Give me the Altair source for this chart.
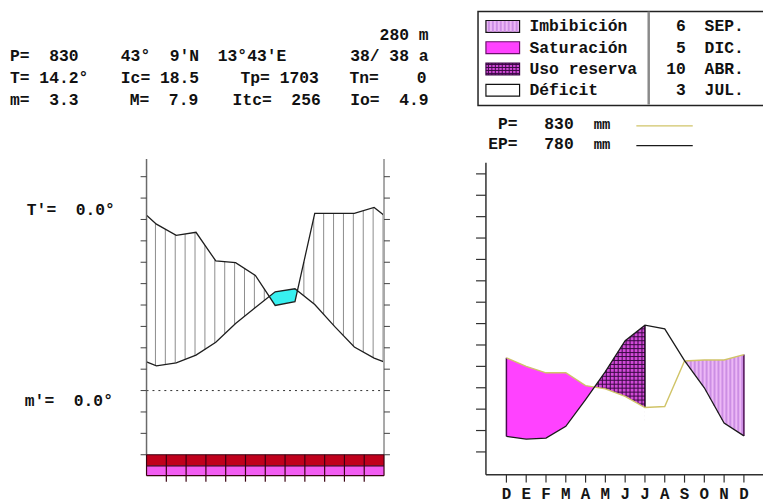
import altair as alt
import numpy as np
import pandas as pd

W, H = 763, 496
FONT = "Liberation Mono"

# ---------------- data ----------------
# Left diagram (months Jan..Dec, x in month units, values in °C; P shown as P/2)
left_x = [0, 0.5, 1.5, 2.5, 3.5, 4.5, 5.5, 6.5, 7.5, 8.5, 9.5, 10.5, 11.5, 12]
left_T = [6.7, 5.8, 6.5, 8.3, 11.3, 15.7, 19.4, 23.1, 23.8, 20.1, 15.0, 10.2, 7.6, 6.7]
left_P_half = [41.0, 38.9, 36.3, 37.0, 30.3, 29.9, 26.9, 19.9, 20.8, 41.4, 41.4, 41.4, 42.8, 41.0]
left_temp_ticks = list(range(-15, 55, 5))

# Right diagram (water balance, mm), D E F M A M J J A S O N D
right_months = ["D", "E", "F", "M", "A", "M", "J", "J", "A", "S", "O", "N", "D"]
right_P = [88, 80, 74, 74, 62, 59, 52, 41.5, 42.5, 85, 86, 86, 91]
right_EP = [14.5, 12, 13, 24, 49, 75, 104, 118.5, 115, 85.4, 60, 27, 15]
right_mm_ticks = list(range(0, 280, 20))

legend_names = ["Imbibición", "Saturación", "Uso reserva", "Déficit"]
legend_counts = ["6", "5", "10", "3"]
legend_months = ["SEP.", "DIC.", "ABR.", "JUL."]


# ---------------- scales (placement of each diagram on one canvas) ----------------
def xdom(px0, v0, ppu):
    d0 = v0 - (px0 - 8) / ppu
    return [d0, d0 + W / ppu]


def ydom(py0, v0, ppu):
    d0 = v0 - (H - (py0 - 8)) / ppu
    return [d0, d0 + H / ppu]


XL = alt.Scale(domain=xdom(148, 0, 20), nice=False, zero=False)
YL = alt.Scale(domain=ydom(392, 0, 21.615 / 5), nice=False, zero=False)
XR = alt.Scale(domain=xdom(511.7, 0, 20), nice=False, zero=False)
YR = alt.Scale(domain=ydom(454, 0, 21.615 / 20), nice=False, zero=False)


def L(df, mark, xs, ys, x2=False, y2=False, extra=None):
    e = dict(x=alt.X("x:Q", scale=xs, axis=None), y=alt.Y("y:Q", scale=ys, axis=None))
    if x2:
        e["x2"] = alt.X2("x2:Q")
    if y2:
        e["y2"] = alt.Y2("y2:Q")
    if extra:
        e.update(extra)
    kind, props = mark
    ch = getattr(alt.Chart(df), "mark_" + kind)(**props)
    return ch.encode(**e)


def crossings(x, a, b):
    d = np.asarray(a) - np.asarray(b)
    out = []
    for i in range(len(x) - 1):
        if d[i] * d[i + 1] < 0:
            t = d[i] / (d[i] - d[i + 1])
            out.append((x[i] + t * (x[i + 1] - x[i]), a[i] + t * (a[i + 1] - a[i])))
    return out


# ---------------- left diagram ----------------
lx = np.array(left_x, float)
lT = np.array(left_T, float)
lP = np.array(left_P_half, float)

hx = np.arange(0.45, 12, 0.5)
hT = np.interp(hx, lx, lT)
hP = np.interp(hx, lx, lP)
m = hP > hT
hatch_df = pd.DataFrame({"x": hx[m], "y": hT[m], "y2": hP[m]})

cr = crossings(lx, lP, lT)
cy_rows = [{"x": cr[0][0], "y": cr[0][1], "y2": cr[0][1]}]
for xi, pi, ti in zip(lx, lP, lT):
    if cr[0][0] < xi < cr[1][0]:
        cy_rows.append({"x": xi, "y": pi, "y2": ti})
cy_rows.append({"x": cr[1][0], "y": cr[1][1], "y2": cr[1][1]})
cyan_df = pd.DataFrame(cy_rows)

lines_df = pd.concat([
    pd.DataFrame({"x": lx, "y": lP, "s": "P"}),
    pd.DataFrame({"x": lx, "y": lT, "s": "T"}),
])

ytop_l = (392 - 158) / 4.323
left_layers = [
    L(hatch_df, ("rule", dict(color="#8c8c8c", strokeWidth=1)), XL, YL, y2=True),
    L(cyan_df, ("area", dict(color="#38f0f0", opacity=1)), XL, YL, y2=True),
    L(lines_df, ("line", dict(color="#1e1e1e", strokeWidth=1.3)), XL, YL, extra={"detail": "s:N"}),
    # dotted freezing line
    L(pd.DataFrame({"x": [0], "x2": [12], "y": [0]}),
      ("rule", dict(color="#303030", strokeDash=[2, 4], strokeWidth=1)), XL, YL, x2=True),
    # axes
    L(pd.DataFrame({"x": [0], "y": [-15], "y2": [ytop_l]}),
      ("rule", dict(color="#6a6a6a", strokeWidth=1.5)), XL, YL, y2=True),
    L(pd.DataFrame({"x": [12], "y": [-15], "y2": [ytop_l]}),
      ("rule", dict(color="#a8a8a8", strokeWidth=2)), XL, YL, y2=True),
    L(pd.DataFrame({"x": -0.3, "x2": 0.0, "y": left_temp_ticks}),
      ("rule", dict(color="#404040", strokeWidth=1)), XL, YL, x2=True),
    L(pd.DataFrame({"x": 12.0, "x2": 12.3, "y": left_temp_ticks}),
      ("rule", dict(color="#404040", strokeWidth=1)), XL, YL, x2=True),
    # bars
    L(pd.DataFrame({"x": [0], "x2": [12], "y": [-15], "y2": [-17.6]}),
      ("rect", dict(color="#c0001c")), XL, YL, x2=True, y2=True),
    L(pd.DataFrame({"x": [0], "x2": [12], "y": [-17.6], "y2": [-19.9]}),
      ("rect", dict(color="#f25cf2")), XL, YL, x2=True, y2=True),
    L(pd.DataFrame({"x": 0, "x2": 12, "y": [-15, -17.6, -19.9]}),
      ("rule", dict(color="#3a0010", strokeWidth=1.2)), XL, YL, x2=True),
    L(pd.DataFrame({"x": list(range(1, 12)), "y": -15, "y2": -21.3}),
      ("rule", dict(color="#3a0010", strokeWidth=1.2)), XL, YL, y2=True),
    L(pd.DataFrame({"x": [0, 12], "y": -15, "y2": -19.9}),
      ("rule", dict(color="#3a0010", strokeWidth=1.2)), XL, YL, y2=True),
]
left = alt.layer(*left_layers)

# ---------------- right diagram ----------------
rx = np.arange(13, dtype=float)
rP = np.array(right_P, float)
rE = np.array(right_EP, float)
rc = crossings(rx, rP, rE)
c1, c2 = rc[0], rc[-1]

sat_rows = [{"x": xi, "y": pi, "y2": ei} for xi, pi, ei in zip(rx, rP, rE) if xi < c1[0]]
sat_rows.append({"x": c1[0], "y": c1[1], "y2": c1[1]})
sat_df = pd.DataFrame(sat_rows)

uso_rows = [{"x": c1[0], "y": c1[1], "y2": c1[1]}]
uso_rows += [{"x": xi, "y": ei, "y2": pi} for xi, pi, ei in zip(rx, rP, rE) if c1[0] < xi <= 7]
uso_df = pd.DataFrame(uso_rows)

imb_rows = [{"x": c2[0], "y": c2[1], "y2": c2[1]}]
imb_rows += [{"x": xi, "y": pi, "y2": ei} for xi, pi, ei in zip(rx, rP, rE) if xi > c2[0]]
imb_df = pd.DataFrame(imb_rows)

# grid texture of "uso reserva"
gx = np.arange(c1[0] + 0.2, 7.0001, 0.2)
gEP = np.interp(gx, rx, rE)
gP = np.interp(gx, rx, rP)
grid_v = pd.DataFrame({"x": gx, "y": gP, "y2": gEP})
grid_h = pd.DataFrame({"x": c1[0] + 0.05, "x2": 7.0, "y": np.arange(30, 126, 3.7)})
mask_top = uso_df.assign(y=uso_df["y"], y2=250.0)
mask_bot = uso_df.assign(y=uso_df["y2"], y2=-20.0)

# stripes of "imbibición"
sx = np.arange(c2[0] + 0.1, 12, 0.2)
stripes = pd.DataFrame({"x": sx, "y": np.interp(sx, rx, rE), "y2": np.interp(sx, rx, rP)})

rlines_P = pd.DataFrame({"x": rx, "y": rP})
rlines_E = pd.DataFrame({"x": rx, "y": rE})

xl_r = (491 - 511.7) / 20
xr_r = (771 - 511.7) / 20
yb_r = (454 - 477) / 1.0808
yt_r = (454 - 161.7) / 1.0808
month_df = pd.DataFrame({"x": rx, "y": (454 - 497) / 1.0808, "t": right_months})

right_layers = [
    L(sat_df, ("area", dict(color="#ff42ff", opacity=1)), XR, YR, y2=True),
    L(uso_df, ("area", dict(color="#d24ad8", opacity=1)), XR, YR, y2=True),
    L(grid_h, ("rule", dict(color="#3a0a44", strokeWidth=1)), XR, YR, x2=True),
    L(mask_top, ("area", dict(color="white", opacity=1)), XR, YR, y2=True),
    L(mask_bot, ("area", dict(color="white", opacity=1)), XR, YR, y2=True),
    L(grid_v, ("rule", dict(color="#3a0a44", strokeWidth=1)), XR, YR, y2=True),
    L(imb_df, ("area", dict(color="#ecb8f6", opacity=1)), XR, YR, y2=True),
    L(stripes, ("rule", dict(color="#cc8ee4", strokeWidth=2)), XR, YR, y2=True),
    L(pd.DataFrame({"x": [0.0, 12.0], "y": [rE[0], rE[12]], "y2": [rP[0], rP[12]]}),
      ("rule", dict(color="#4a0a52", strokeWidth=1.5)), XR, YR, y2=True),
    L(pd.DataFrame({"x": [7.0], "y": [rP[7]], "y2": [rE[7]]}),
      ("rule", dict(color="#1a001e", strokeWidth=1.5)), XR, YR, y2=True),
    L(rlines_P, ("line", dict(color="#d0c468", strokeWidth=1.4)), XR, YR),
    L(rlines_E, ("line", dict(color="#1a1a1a", strokeWidth=1.3)), XR, YR),
    # axes
    L(pd.DataFrame({"x": [xl_r], "y": [yb_r], "y2": [yt_r]}),
      ("rule", dict(color="#303030", strokeWidth=1.5)), XR, YR, y2=True),
    L(pd.DataFrame({"x": [xl_r], "x2": [xr_r], "y": [yb_r]}),
      ("rule", dict(color="#303030", strokeWidth=1.5)), XR, YR, x2=True),
    L(pd.DataFrame({"x": xl_r - 0.5, "x2": xl_r, "y": right_mm_ticks}),
      ("rule", dict(color="#303030", strokeWidth=1.2)), XR, YR, x2=True),
    L(pd.DataFrame({"x": rx, "y": yb_r, "y2": yb_r - 8 / 1.0808}),
      ("rule", dict(color="#303030", strokeWidth=1.2)), XR, YR, y2=True),
    L(month_df, ("text", dict(font=FONT, fontSize=16, fontWeight="bold", color="#151515",
                              align="center", baseline="middle")), XR, YR,
      extra={"text": "t:N"}),
]
right = alt.layer(*right_layers)

# ---------------- annotations (text, legend box) ----------------
one = pd.DataFrame({"a": [0]})


def txt(s, x, y, align="left", size=16.5, color="#111111"):
    return alt.Chart(one).mark_text(
        text=s.replace(" ", "\u00a0"), align=align, baseline="middle", font=FONT,
        fontSize=size, fontWeight="bold", color=color,
    ).encode(x=alt.value(x - 8), y=alt.value(y - 8))


def box(x1, y1, x2, y2, fill, stroke="#111111", sw=1.2):
    return alt.Chart(one).mark_rect(fill=fill, stroke=stroke, strokeWidth=sw).encode(
        x=alt.value(x1 - 8), x2=alt.value(x2 - 8), y=alt.value(y1 - 8), y2=alt.value(y2 - 8))


def hline(x1, x2, y, color, sw=1.2):
    return alt.Chart(one).mark_rule(color=color, strokeWidth=sw).encode(
        x=alt.value(x1 - 8), x2=alt.value(x2 - 8), y=alt.value(y - 8))


def vline(x, y1, y2, color, sw=1.2):
    return alt.Chart(one).mark_rule(color=color, strokeWidth=sw).encode(
        x=alt.value(x - 8), y=alt.value(y1 - 8), y2=alt.value(y2 - 8))


deco = []
# header block
deco += [
    txt("280 m", 433, 33, "right"),
    txt("P=  830", 10, 54), txt("43°  9'N", 122, 54), txt("13°43'E", 220, 54),
    txt("38/ 38 a", 433, 54, "right"),
    txt("T= 14.2°", 10, 76), txt("Ic= 18.5", 122, 76), txt("Tp= 1703", 243, 76),
    txt("Tn=", 353, 76), txt("0", 431, 76, "right"),
    txt("m=  3.3", 10, 98), txt("M=  7.9", 131, 98), txt("Itc=  256", 235, 98),
    txt("Io=  4.9", 433, 98, "right"),
    txt("T'=  0.0°", 27, 210), txt("m'=  0.0°", 25, 403),
]
# legend box
deco += [box(483, 8.8, 790, 104, "white", "#222222", 1.5)]
deco += [vline(655.5, 9, 103, "#8a8a8a", 2.5)]
rows_y = [24, 45.5, 67, 88.5]
sw_x1, sw_x2 = 491, 525
deco += [box(sw_x1, rows_y[0] - 6, sw_x2, rows_y[0] + 6, "#ecb8f6")]
for sxp in np.arange(sw_x1 + 3, sw_x2 - 1, 4):
    deco.append(vline(sxp, rows_y[0] - 5.4, rows_y[0] + 5.4, "#cc8ee4", 2))
deco += [box(sw_x1, rows_y[1] - 6, sw_x2, rows_y[1] + 6, "#ff42ff", "#6a106a")]
deco += [box(sw_x1, rows_y[2] - 6, sw_x2, rows_y[2] + 6, "#d24ad8", "#3a0a44")]
for sxp in np.arange(sw_x1 + 2.5, sw_x2, 3.5):
    deco.append(vline(sxp, rows_y[2] - 6, rows_y[2] + 6, "#3a0a44", 1))
for syp in np.arange(rows_y[2] - 4.5, rows_y[2] + 6, 3):
    deco.append(hline(sw_x1, sw_x2, syp, "#3a0a44", 1))
deco += [box(sw_x1, rows_y[3] - 6, sw_x2, rows_y[3] + 6, "white")]
for i in range(4):
    deco.append(txt(legend_names[i], 535, rows_y[i]))
    deco.append(txt(legend_counts[i], 693, rows_y[i], "right"))
    deco.append(txt(legend_months[i], 712, rows_y[i]))
# P / EP totals
deco += [
    txt("P=", 523, 123, "right"), txt("830", 550, 123), txt("mm", 600, 124, size=14),
    txt("EP=", 523, 143, "right"), txt("780", 550, 143), txt("mm", 600, 144, size=14),
    hline(643, 700, 124.5, "#d0c468", 1.4), hline(643, 700, 144.5, "#1a1a1a", 1.3),
]

chart = alt.layer(left, right, *deco).resolve_scale(x="independent", y="independent").properties(
    width=W, height=H, autosize="none", padding=0
).configure_view(stroke=None)

chart.save("out.html", embed_options={"renderer": "svg", "actions": False})
